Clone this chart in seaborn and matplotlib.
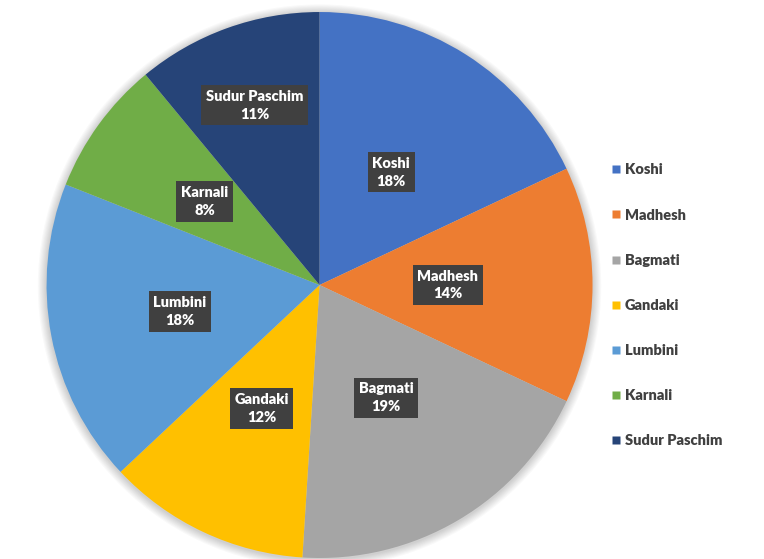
import matplotlib.pyplot as plt
from matplotlib.lines import Line2D
from matplotlib.patches import Circle
import seaborn as sns
import numpy as np

provinces = ['Koshi', 'Madhesh', 'Bagmati', 'Gandaki', 'Lumbini', 'Karnali', 'Sudur Paschim']
shares = [18, 14, 19, 12, 18, 8, 11]
colors = ['#4472C4', '#ED7D31', '#A5A5A5', '#FFC000', '#5B9BD5', '#70AD47', '#264478']
label_radius = [0.49, 0.47, 0.48, 0.50, 0.52, 0.52, 0.70]

sns.set_theme(style='white')
plt.rcParams['font.family'] = ['Lato', 'DejaVu Sans']

fig = plt.figure(figsize=(7.64, 5.59), dpi=100)
ax = fig.add_axes([0.0609, 0.0018, 0.7147, 0.9767])

# soft shadow around the pie
for k in range(8, 0, -1):
    ax.add_patch(Circle((0, -0.004), 1 + k * 0.004, facecolor='#000000', alpha=0.025,
                        edgecolor='none', clip_on=False, zorder=0))

wedges, _ = ax.pie(shares, colors=colors, startangle=90, counterclock=False,
                   radius=1.0, wedgeprops=dict(linewidth=0, zorder=1))
ax.set_xlim(-1, 1)
ax.set_ylim(-1, 1)
ax.set_aspect('equal')
ax.axis('off')

total = sum(shares)
for w, name, val, r in zip(wedges, provinces, shares, label_radius):
    mid = np.deg2rad((w.theta1 + w.theta2) / 2)
    ax.text(r * np.cos(mid), r * np.sin(mid), f"{name}\n{round(100 * val / total)}%",
            ha='center', va='center', color='white', fontsize=10.5, fontweight='heavy',
            linespacing=1.45, zorder=3,
            bbox=dict(boxstyle='square,pad=0.32', facecolor='#404040', edgecolor='none'))

handles = [Line2D([], [], marker='s', linestyle='none', markersize=6,
                  markerfacecolor=c, markeredgecolor='none') for c in colors]
leg = fig.legend(handles, provinces, loc='center left', bbox_to_anchor=(0.78, 0.454),
                 frameon=False, labelspacing=2.2, handletextpad=0.1, handlelength=1.0,
                 prop=dict(size=10.5, weight='heavy'))
for t in leg.get_texts():
    t.set_color('#404040')

fig.savefig('out.png', dpi=100)
